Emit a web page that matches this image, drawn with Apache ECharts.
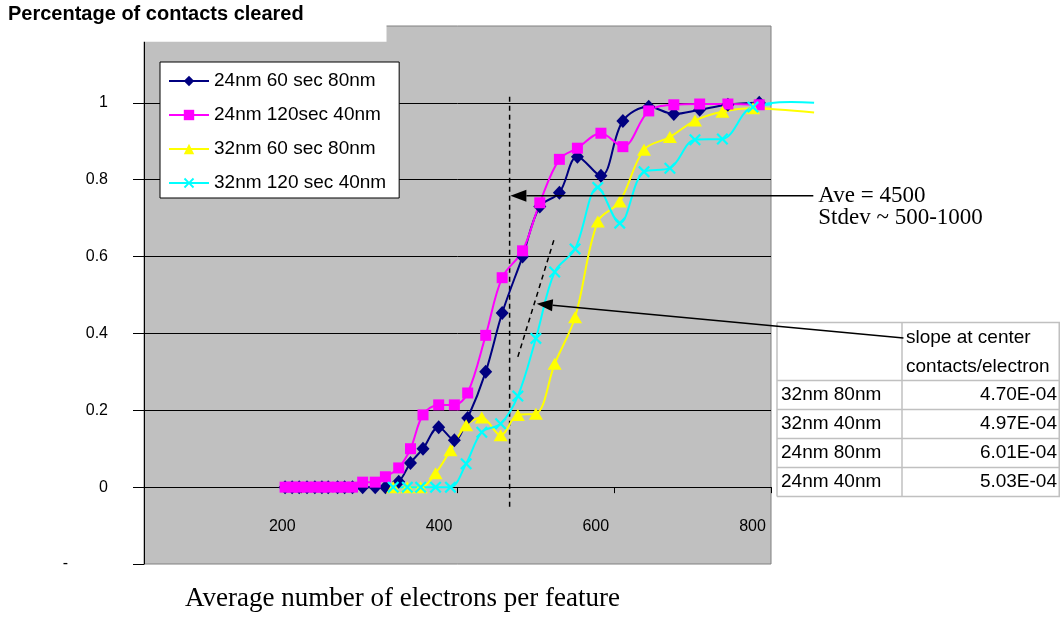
<!DOCTYPE html>
<html><head><meta charset="utf-8">
<script src="https://cdn.jsdelivr.net/npm/echarts@6/dist/echarts.min.js"></script>
<style>html,body{margin:0;padding:0;background:#fff}#c{width:1060px;height:628px}</style>
</head><body><div id="c"></div>
<script>
// ---- data ----
const seriesNames = ['24nm 60 sec 80nm', '24nm 120sec 40nm', '32nm 60 sec 80nm', '32nm 120 sec 40nm'];
const x24 = [180, 189, 198, 208, 218, 227, 235, 247, 256, 266, 279, 295, 308, 325, 340, 356, 376, 396, 413, 436, 457, 483, 505, 530, 553, 583, 611, 644, 676, 709, 745, 785];
const y24n60s80 = [0, 0, 0, 0, 0, 0, 0, 0, 0, 0, 0, 0, 0, 0.014, 0.063, 0.10, 0.156, 0.122, 0.18, 0.30, 0.453, 0.60, 0.73, 0.766, 0.86, 0.81, 0.953, 0.99, 0.971, 0.982, 0.995, 1.0];
const y24n120s40 = [0, 0, 0, 0, 0, 0, 0, 0, 0, 0, 0.013, 0.013, 0.027, 0.05, 0.10, 0.188, 0.214, 0.214, 0.245, 0.395, 0.545, 0.615, 0.74, 0.853, 0.882, 0.921, 0.886, 0.979, 0.995, 0.997, 0.997, 0.995];
const x32 = [318, 336, 353, 372, 391, 411, 431, 455, 477, 500, 524, 550, 579, 607, 638, 671, 703, 738, 777, 855];
const y32n60s80 = [0, 0, 0, 0.036, 0.096, 0.161, 0.181, 0.135, 0.188, 0.191, 0.321, 0.442, 0.691, 0.743, 0.878, 0.911, 0.954, 0.977, 0.986, 0.975];
const y32n120s40 = [0, 0, 0, 0, 0, 0.061, 0.143, 0.165, 0.237, 0.387, 0.56, 0.62, 0.78, 0.687, 0.821, 0.83, 0.904, 0.906, 0.989, 1.0];

// annotations (data space)
const meanLine = [[466.5, 1.016], [466.5, -0.055]];
const slopeLine = [[477, 0.339], [523, 0.643]];
const aveArrow = [[854, 0.758], [467.5, 0.758]];
const slopeArrow = [[969, 0.388], [501, 0.477]];
const aveText = ['Ave = 4500', 'Stdev ~ 500-1000'];

// table
const tableHeader = ['slope at center', 'contacts/electron'];
const tableRows = ['32nm 80nm', '32nm 40nm', '24nm 80nm', '24nm 40nm'];
const tableValues = ['4.70E-04', '4.97E-04', '6.01E-04', '5.03E-04'];

const titleText = 'Percentage of contacts cleared';
const xTitle = 'Average number of electrons per feature';

// ---- build ----
const SANS = '"Liberation Sans", Arial, sans-serif';
const SERIF = '"Liberation Serif", "Times New Roman", serif';
const colors = ['#000080', '#FF00FF', '#FFFF00', '#00FFFF'];
const xSym = 'path://M0,1.3 L1.3,0 L5,3.7 L8.7,0 L10,1.3 L6.3,5 L10,8.7 L8.7,10 L5,6.3 L1.3,10 L0,8.7 L3.7,5 Z';
const symbols = ['diamond', 'rect', 'triangle', xSym];
const symSizes = [[13, 14], 11, [14, 12], 12];
const X_MAX = 800;

function pairs(xs, ys) {
  return xs.map((x, i) => x > X_MAX ? { value: [x, ys[i]], symbol: 'none' } : [x, ys[i]]);
}
const xsList = [x24, x24, x32, x32];
const ysList = [y24n60s80, y24n120s40, y32n60s80, y32n120s40];
const dataSets = xsList.map((xs, i) => pairs(xs, ysList[i]));

const chart = echarts.init(document.getElementById('c'), null, { renderer: 'canvas' });

const series = [
  { type: 'line', data: meanLine, symbol: 'none', silent: true, lineStyle: { color: '#000', width: 1.5, type: [5, 4] }, z: 1 },
  { type: 'line', data: slopeLine, symbol: 'none', silent: true, lineStyle: { color: '#000', width: 1.5, type: [5, 4] }, z: 1 }
];
seriesNames.forEach((n, i) => {
  series.push({
    type: 'line', name: n, data: dataSets[i], smooth: 0.35, clip: false,
    symbol: symbols[i], symbolSize: symSizes[i], showAllSymbol: true,
    lineStyle: { color: colors[i], width: 2 }, itemStyle: { color: colors[i] },
    emphasis: { disabled: true }, z: 3
  });
});

const option = {
  animation: false,
  backgroundColor: '#fff',
  title: [
    { text: titleText, left: 8, top: 4, padding: 0, textStyle: { fontFamily: SANS, fontWeight: 'bold', fontSize: 20, color: '#000' } },
    { text: xTitle, left: 185, top: 585, padding: 0, textStyle: { fontFamily: SERIF, fontWeight: 'normal', fontSize: 27, color: '#000' } }
  ],
  legend: {
    data: seriesNames, orient: 'vertical', left: 160, top: 62,
    itemWidth: 40, itemHeight: 13, itemGap: 14, padding: [9, 13, 5, 8],
    backgroundColor: '#fff', borderColor: '#000', borderWidth: 1, borderRadius: 0,
    textStyle: { fontFamily: SANS, fontSize: 19, color: '#000', lineHeight: 20 },
    selectedMode: false
  },
  grid: { left: 144, right: 289, top: 26, bottom: 64, show: true, backgroundColor: '#C0C0C0', borderColor: '#808080', borderWidth: 1, containLabel: false },
  xAxis: {
    type: 'value', min: 0, max: X_MAX, interval: 200,
    axisLine: { show: true, onZero: true, lineStyle: { color: '#000', width: 1 } },
    axisTick: { show: true, length: 6, lineStyle: { color: '#000' } },
    splitLine: { show: false },
    axisLabel: { margin: -45, fontFamily: SANS, fontSize: 16, color: '#000', padding: [0, 37, 0, 0], formatter: v => v === 0 ? '' : String(v) }
  },
  yAxis: {
    type: 'value', min: -0.2, max: 1.2, interval: 0.2,
    axisLine: { show: true, onZero: false, lineStyle: { color: '#000', width: 1 } },
    axisTick: { show: true, length: 11, lineStyle: { color: '#000' } },
    splitLine: { show: true, showMinLine: false, showMaxLine: false, lineStyle: { color: '#000', width: 1 } },
    axisLabel: {
      margin: 36, fontFamily: SANS, fontSize: 16, color: '#000',
      formatter: v => { const r = Math.round(v * 10) / 10; if (r === 1.2) return ''; if (r === -0.2) return '{m|-}'; return String(r); },
      rich: { m: { padding: [0, 40, 0, 0], fontFamily: SANS, fontSize: 16, color: '#000' } }
    }
  },
  series: series
};
chart.setOption(option);

// ---- annotations through the chart's scales ----
const px = v => chart.convertToPixel({ gridIndex: 0 }, v);
function arrow(a) {
  const s = px(a[0]), t = px(a[1]);
  const dx = s[0] - t[0], dy = s[1] - t[1], L = Math.hypot(dx, dy);
  const ux = dx / L, uy = dy / L, len = 16, hw = 6;
  const bx = t[0] + ux * len, by = t[1] + uy * len;
  return [
    { type: 'line', z: 20, shape: { x1: s[0], y1: s[1], x2: bx, y2: by }, style: { stroke: '#000', lineWidth: 1.5 } },
    { type: 'polygon', z: 20, shape: { points: [[t[0], t[1]], [bx - uy * hw, by + ux * hw], [bx + uy * hw, by - ux * hw]] }, style: { fill: '#000' } }
  ];
}
const g = [];
// line continuation past the axis end (series are clipped horizontally at the grid edge)
xsList.forEach((xs, si) => {
  const ys = ysList[si];
  for (let i = 1; i < xs.length; i++) {
    if (xs[i] > X_MAX && xs[i - 1] <= X_MAX) {
      const a = px([xs[i - 1], ys[i - 1]]), b = px([xs[i], ys[i]]);
      const a2 = px([xs[i - 2], ys[i - 2]]);
      // gentle curve: control point continues previous direction
      const cx = a[0] + (b[0] - a2[0]) * 0.2, cy = a[1] + (b[1] - a2[1]) * 0.2;
      g.push({ type: 'bezierCurve', z: 2, shape: { x1: a[0], y1: a[1], x2: b[0], y2: b[1], cpx1: cx, cpy1: cy }, style: { stroke: colors[si], lineWidth: 2, fill: null } });
    }
  }
});
// white notch over top-left of plot (title box)
g.push({ type: 'rect', z: 15, shape: { x: 115, y: 24.5, width: 271.5, height: 17.2 }, style: { fill: '#fff' } });
// table
const tL = 777, tM = 902, tR = 1060, tTop = 322.5, tHead = 380.5, rowH = 29;
const tBot = tHead + rowH * tableRows.length;
g.push({ type: 'rect', z: 5, shape: { x: tL, y: tTop, width: tR - tL, height: tBot - tTop }, style: { fill: '#fff' } });
const hy = [tTop, tHead];
tableRows.forEach((r, i) => hy.push(tHead + rowH * (i + 1)));
hy.forEach(y => g.push({ type: 'line', z: 6, shape: { x1: tL, y1: y, x2: tR, y2: y }, style: { stroke: '#C0C0C0', lineWidth: 1.5 } }));
[tL, tM, tR - 0.75].forEach(x => g.push({ type: 'line', z: 6, shape: { x1: x, y1: tTop, x2: x, y2: tBot }, style: { stroke: '#C0C0C0', lineWidth: 1.5 } }));
tableHeader.forEach((h, i) => g.push({ type: 'text', z: 7, style: { text: h, x: tM + 4, y: tTop + 15.5 + 29 * i, align: 'left', verticalAlign: 'middle', font: '19px ' + SANS, fill: '#000' } }));
tableRows.forEach((r, i) => {
  const y = tHead + rowH * i + rowH / 2;
  g.push({ type: 'text', z: 7, style: { text: r, x: tL + 4, y: y, align: 'left', verticalAlign: 'middle', font: '19px ' + SANS, fill: '#000' } });
  g.push({ type: 'text', z: 7, style: { text: tableValues[i], x: tR - 3, y: y, align: 'right', verticalAlign: 'middle', font: '19px ' + SANS, fill: '#000' } });
});
// arrows
g.push(...arrow(aveArrow), ...arrow(slopeArrow));
const a0 = px(aveArrow[0]);
aveText.forEach((t, i) => g.push({ type: 'text', z: 20, style: { text: t, x: a0[0] + 5, y: a0[1] + 22 * i, align: 'left', verticalAlign: 'middle', font: '23px ' + SERIF, fill: '#000' } }));
chart.setOption({ graphic: { elements: g } });
</script>
</body></html>
